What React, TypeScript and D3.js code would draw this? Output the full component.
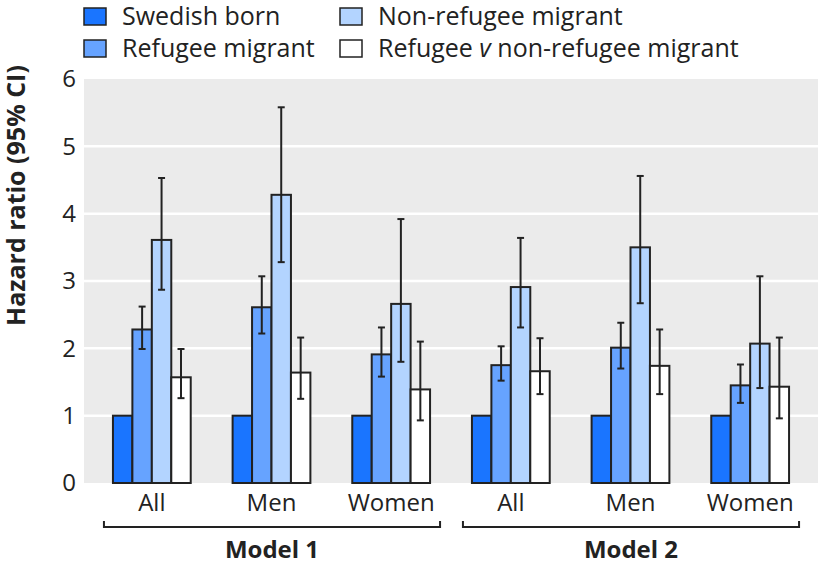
import * as d3 from "d3";
import React from "react";

// groups along the x axis
const models = ["Model 1", "Model 2"];
const subgroups = ["All", "Men", "Women"];
const groups = ["M1 All", "M1 Men", "M1 Women", "M2 All", "M2 Men", "M2 Women"];

const seriesNames = [
  "Swedish born",
  "Refugee migrant",
  "Non-refugee migrant",
  "Refugee v non-refugee migrant",
];
const seriesColors = ["#1a75ff", "#66a3ff", "#b3d4ff", "#ffffff"];

// hazard ratios, one list per series (same order as groups)
const swedishHR = [1, 1, 1, 1, 1, 1];
const refugeeHR = [2.28, 2.61, 1.91, 1.75, 2.01, 1.45];
const refugeeLo = [1.99, 2.22, 1.58, 1.52, 1.7, 1.19];
const refugeeHi = [2.62, 3.07, 2.31, 2.03, 2.38, 1.76];
const nonRefHR = [3.61, 4.28, 2.66, 2.91, 3.5, 2.07];
const nonRefLo = [2.87, 3.28, 1.8, 2.31, 2.67, 1.41];
const nonRefHi = [4.53, 5.58, 3.92, 3.64, 4.56, 3.07];
const ratioHR = [1.57, 1.64, 1.39, 1.66, 1.74, 1.43];
const ratioLo = [1.26, 1.25, 0.93, 1.32, 1.32, 0.96];
const ratioHi = [1.99, 2.16, 2.1, 2.15, 2.28, 2.16];

const yTicks = [0, 1, 2, 3, 4, 5, 6];

const W = 820;
const H = 568;
const plot = { left: 84, right: 818, top: 79, bottom: 483 };
const font = "'Open Sans', sans-serif";

const App = () => {
  const y = d3.scaleLinear().domain([0, 6]).range([plot.bottom, plot.top]);
  const x0 = d3
    .scaleBand()
    .domain(groups)
    .range([92, 810])
    .paddingInner(0.35)
    .paddingOuter(0.175);
  const x1 = d3.scaleBand().domain(seriesNames).range([0, x0.bandwidth()]);

  const values = [swedishHR, refugeeHR, nonRefHR, ratioHR];
  const lows = [null, refugeeLo, nonRefLo, ratioLo];
  const highs = [null, refugeeHi, nonRefHi, ratioHi];

  // legend placement, two columns
  const legendPos = [
    { x: 84, y: 8 },
    { x: 84, y: 40 },
    { x: 340, y: 8 },
    { x: 340, y: 40 },
  ];

  return (
    <div style={{ position: "absolute", left: 0, top: 0 }}>
      <svg width={W} height={H} style={{ display: "block" }} fontFamily={font}>
        <rect
          x={plot.left}
          y={plot.top}
          width={plot.right - plot.left}
          height={plot.bottom - plot.top}
          fill="#ebebeb"
        />
        {yTicks.slice(1, -1).map((t) => (
          <line
            key={t}
            x1={plot.left}
            x2={plot.right}
            y1={y(t)}
            y2={y(t)}
            stroke="#fff"
            strokeWidth={2.5}
          />
        ))}
        {yTicks.map((t) => (
          <text
            key={t}
            x={76}
            y={y(t)}
            dy="0.35em"
            textAnchor="end"
            fontSize={24}
            fill="#222"
          >
            {t}
          </text>
        ))}
        <text
          transform="translate(25,326) rotate(-90)"
          textAnchor="start"
          fontSize={25}
          fontWeight="bold"
          fill="#222"
        >
          Hazard ratio (95% CI)
        </text>

        {groups.map((g, gi) => (
          <g key={g} transform={`translate(${x0(g)},0)`}>
            {seriesNames.map((s, si) => (
              <rect
                key={s}
                x={x1(s)}
                y={y(values[si][gi])}
                width={x1.bandwidth()}
                height={y(0) - y(values[si][gi])}
                fill={seriesColors[si]}
                stroke="#222"
                strokeWidth={2}
              />
            ))}
            {seriesNames.map((s, si) => {
              const lo = lows[si];
              const hi = highs[si];
              if (!lo || !hi) return null;
              const cx = (x1(s) as number) + x1.bandwidth() / 2;
              return (
                <g key={s} stroke="#222" strokeWidth={2}>
                  <line x1={cx} x2={cx} y1={y(lo[gi])} y2={y(hi[gi])} />
                  <line x1={cx - 3.5} x2={cx + 3.5} y1={y(lo[gi])} y2={y(lo[gi])} />
                  <line x1={cx - 3.5} x2={cx + 3.5} y1={y(hi[gi])} y2={y(hi[gi])} />
                </g>
              );
            })}
            <text
              x={x0.bandwidth() / 2}
              y={511}
              textAnchor="middle"
              fontSize={24}
              fill="#222"
            >
              {subgroups[gi % 3]}
            </text>
          </g>
        ))}

        {models.map((m, mi) => {
          const first = groups[mi * 3];
          const last = groups[mi * 3 + 2];
          const left = (x0(first) as number) - 9;
          const right = (x0(last) as number) + x0.bandwidth() + 10;
          return (
            <g key={m}>
              <path
                d={`M${left},521V527H${right}V521`}
                fill="none"
                stroke="#222"
                strokeWidth={2}
              />
              <text
                x={(left + right) / 2}
                y={558}
                textAnchor="middle"
                fontSize={24}
                fontWeight="bold"
                fill="#222"
              >
                {m}
              </text>
            </g>
          );
        })}

        {seriesNames.map((s, si) => (
          <g key={s} transform={`translate(${legendPos[si].x},${legendPos[si].y})`}>
            <rect
              x={0}
              y={0}
              width={22}
              height={17}
              fill={seriesColors[si]}
              stroke="#222"
              strokeWidth={1.5}
            />
            <text x={38} y={17} fontSize={25} fill="#222">
              {si === 3 ? (
                <>
                  Refugee <tspan fontStyle="italic">v</tspan> non-refugee migrant
                </>
              ) : (
                s
              )}
            </text>
          </g>
        ))}
      </svg>
    </div>
  );
};

export default App;
